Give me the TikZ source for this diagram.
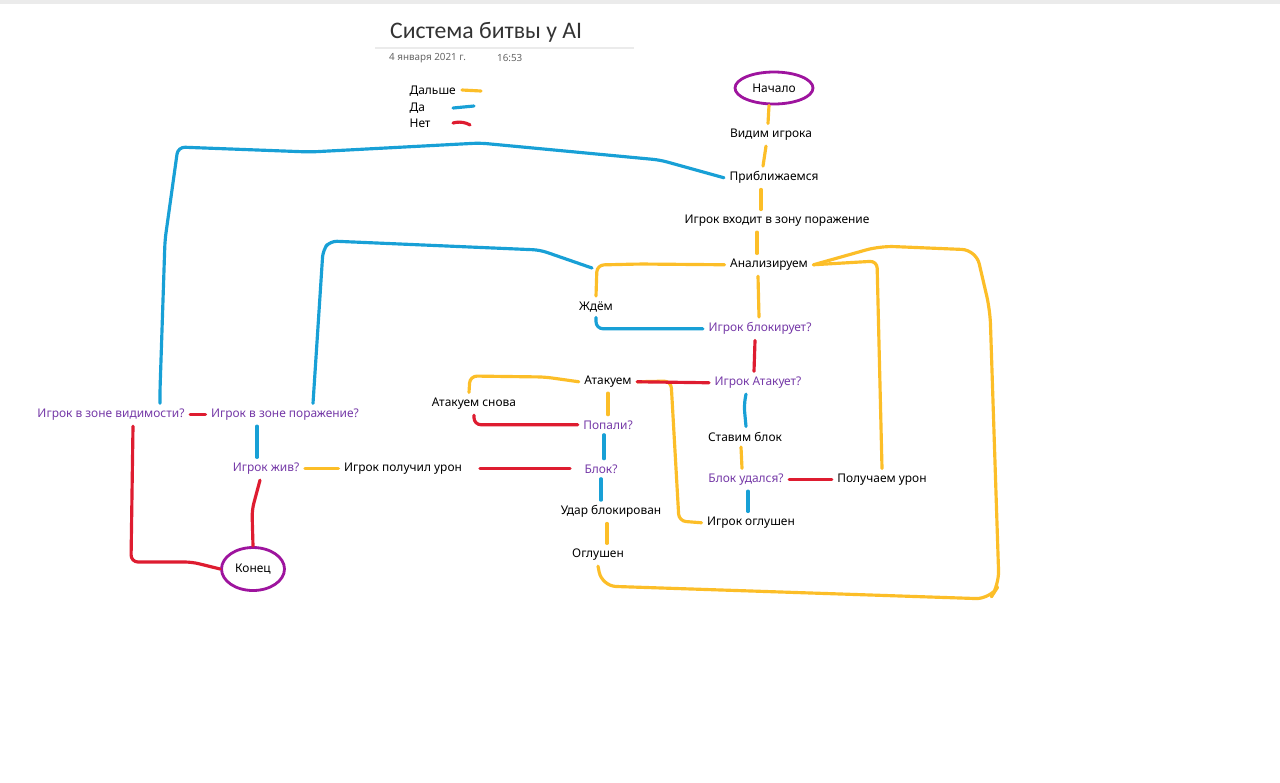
\documentclass[tikz,border=0pt]{standalone}
\usepackage{fontspec}
\setmainfont{Noto Sans}
\newfontfamily\titlefont{Carlito}
\usetikzlibrary{calc,shapes.geometric}
\definecolor{penyellow}{RGB}{252,190,40}
\definecolor{penblue}{RGB}{24,160,214}
\definecolor{penred}{RGB}{222,28,48}
\definecolor{penpurple}{RGB}{158,20,158}
\definecolor{askpurple}{RGB}{118,58,168}
\tikzset{
  act/.style={inner sep=3pt,yshift=-1pt,font=\fontsize{6.8}{8}\selectfont},
  ask/.style={act,text=askpurple},
  term/.style={inner sep=1pt,font=\fontsize{6.8}{8}\selectfont,ellipse,draw=penpurple,line width=1.6pt},
  pen/.style={line width=1.8pt,line cap=round,line join=round,rounded corners=4pt},
  go/.style={pen,penyellow},
  yes/.style={pen,penblue},
  no/.style={pen,penred}
}
\begin{document}
\begin{tikzpicture}[x=0.02cm,y=-0.02cm]
  \fill[white] (0,0) rectangle (1280,782);
  \useasboundingbox (0,0) rectangle (1280,782);
  \fill[black!8] (0,0) rectangle (1280,4);
  \node[anchor=west,text=black!80,font=\titlefont\fontsize{13.5}{15}\selectfont] (title) at (384,32) {Система битвы у AI};
  \draw[black!8,line width=0.6pt] (375,48) -- (634,48);
  \node[anchor=west,text=black!60,font=\fontsize{5.6}{7}\selectfont] (date) at (383,58) {4 января 2021 г.};
  \node[anchor=west,text=black!60,font=\fontsize{5.6}{7}\selectfont] (time) at (491,58) {16:53};
  \node[act,anchor=west] (lgo) at (404,89) {Дальше};
  \node[act,anchor=west] (lyes) at (404,106) {Да};
  \node[act,anchor=west] (lno) at (404,122) {Нет};
  \draw[go] (462,90) -- (481,91);
  \draw[yes] (453,108) -- (474,106);
  \draw[no] (453,123) -- (463,121) -- (470,125);

  \node[term,minimum width=1.56cm,minimum height=0.64cm] (start) at (774,88) {Начало};
  \node[act] (see) at (771,133) {Видим игрока};
  \node[act] (near) at (774,176) {Приближаемся};
  \node[act] (enter) at (777,219) {Игрок входит в зону поражение};
  \node[act] (anl) at (769,263) {Анализируем};
  \node[act] (wait) at (596,305) {Ждём};
  \node[ask] (pblk) at (760,327) {Игрок блокирует?};
  \node[act] (atk) at (608,380) {Атакуем};
  \node[ask] (patk) at (758,381) {Игрок Атакует?};
  \node[act] (again) at (474,402) {Атакуем снова};
  \node[ask] (hit) at (608,423) {Попали?};
  \node[act] (guard) at (745,435) {Ставим блок};
  \node[ask] (alive) at (266,467) {Игрок жив?};
  \node[act] (dmg) at (403,467) {Игрок получил урон};
  \node[ask] (blk) at (601,467) {Блок?};
  \node[ask] (ok) at (746,478) {Блок удался?};
  \node[act] (hurt) at (882,478) {Получаем урон};
  \node[act] (held) at (611,510) {Удар блокирован};
  \node[act] (pstun) at (751,521) {Игрок оглушен};
  \node[act] (stun) at (598,553) {Оглушен};
  \node[ask] (vis) at (111,413) {Игрок в зоне видимости?};
  \node[ask] (zone) at (285,413) {Игрок в зоне поражение?};
  \node[term,minimum width=1.26cm,minimum height=0.86cm] (end) at (253,569) {Конец};
  \coordinate (fork) at (592,268);

  \draw[go] ($(start.south)+(-5,0)$) -- ($(see.north)+(-3,0)$);
  \draw[go] ($(see.south)+(-5,0)$) -- ($(near.north)+(-11,0)$);
  \draw[go] ($(near.south)+(-13,0)$) -- ($(enter.north)+(-16,0)$);
  \draw[go] ($(enter.south)+(-20,0)$) -- ($(anl.north)+(-12,0)$);
  \draw[go] ($(anl.south)+(-11,0)$) -- ($(pblk.north)+(-1,0)$);
  \draw[go] (anl.west) -- (640,264) -- (597,265) -- (wait.north);
  \draw[go] (anl.east) -- (877,261) -- (hurt.north);
  \draw[go,rounded corners=8pt] (stun.south) -- (602,586) -- (990,599) -- (999,585) -- (990,310) -- (976,250) -- (880,246) -- (anl.east);
  \draw[go] (atk.south) -- (hit.north);
  \draw[go] ($(again.north)+(-5,0)$) -- (470,376) -- (545,377) -- (atk.west);
  \draw[go] (alive.east) -- (dmg.west);
  \draw[go] ($(held.south)+(-4,0)$) -- ($(stun.north)+(9,0)$);
  \draw[go] ($(guard.south)+(-4,0)$) -- ($(ok.north)+(-4,0)$);
  \draw[go] (pstun.west) -- (679,521) -- (671,381) -- (atk.east);

  \draw[yes] (near.west) -- (660,160) -- (480,143) -- (310,152) -- (178,147) -- (165,240) -- (160,390) -- ($(vis.north)+(49,0)$);
  \draw[yes] ($(zone.north)+(28,0)$) -- (323,250) -- (330,241) -- (540,250) -- (fork);
  \draw[yes] (wait.south) |- (pblk.west);
  \draw[yes] ($(patk.south)+(-12,0)$) -- (744,405) -- ($(guard.north)+(1,0)$);
  \draw[yes] ($(hit.south)+(-4,0)$) -- ($(blk.north)+(3,0)$);
  \draw[yes] (blk.south) -- ($(held.north)+(-10,0)$);
  \draw[yes] ($(ok.south)+(2,0)$) -- ($(pstun.north)+(-3,0)$);
  \draw[yes] ($(zone.south)+(-28,0)$) -- ($(alive.north)+(-9,0)$);

  \draw[no] ($(pblk.south)+(-5,0)$) -- ($(patk.north)+(-4,0)$);
  \draw[no] (patk.west) -- (atk.east);
  \draw[no] (hit.west) -| (again.south);
  \draw[no,shorten <=5pt,shorten >=7pt] (blk.west) -- (dmg.east);
  \draw[no] (ok.east) -- (hurt.west);
  \draw[no] (vis.east) -- (zone.west);
  \draw[no] ($(vis.south)+(22,0)$) -- (131,562) -- (192,562) -- (end.west);
  \draw[no] ($(alive.south)+(-6,0)$) -- (252,510) -- (end.north);
\end{tikzpicture}
\end{document}
